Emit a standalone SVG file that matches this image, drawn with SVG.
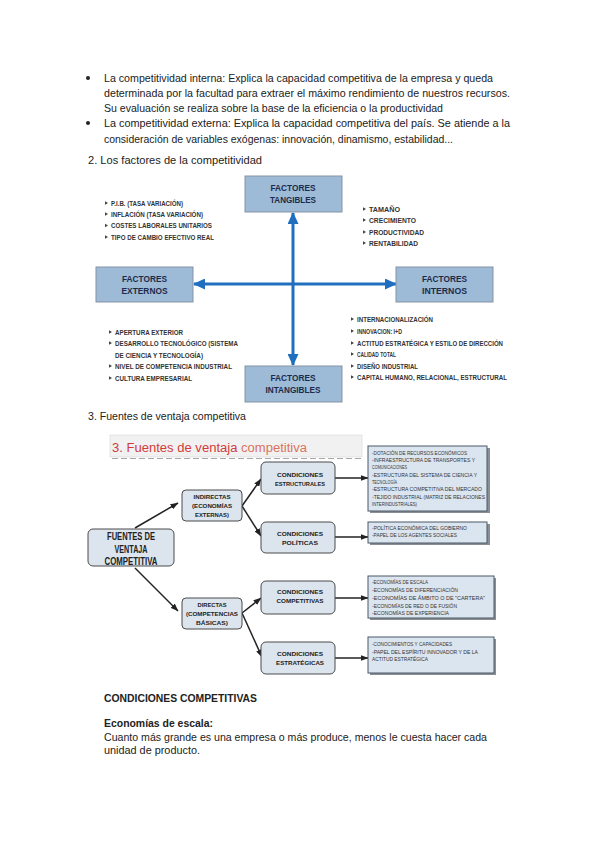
<svg xmlns="http://www.w3.org/2000/svg" xmlns:xlink="http://www.w3.org/1999/xlink" width="599" height="848" viewBox="0 0 599 848">
<style>
.p{font-family:"Liberation Sans",Arial,sans-serif;font-size:11px;fill:#222}
.pb{font-family:"Liberation Sans",Arial,sans-serif;font-size:11px;fill:#222;font-weight:bold}
.fb{fill:#9dbad6;stroke:#8593a3;stroke-width:1}
.ft{font-family:"Liberation Sans",Arial,sans-serif;font-size:9.5px;font-weight:bold;fill:#1c2b4b;text-anchor:middle}
.li{font-family:"Liberation Sans",Arial,sans-serif;font-size:6.6px;font-weight:bold;fill:#333}
.blue{stroke:#1f6ebf;stroke-width:3;fill:none}
.nd{fill:#dce5ee;stroke:#4a4a4a;stroke-width:1}
.nt{font-family:"Liberation Sans",Arial,sans-serif;font-size:6.2px;font-weight:bold;fill:#222;text-anchor:middle}
.nt2{font-family:"Liberation Sans",Arial,sans-serif;font-size:10px;font-weight:bold;fill:#222;text-anchor:middle}
.bx{fill:#dbe5ef;stroke:#4a5866;stroke-width:1}
.sh{fill:#8a8f96}
.bt{font-family:"Liberation Sans",Arial,sans-serif;font-size:5.4px;fill:#333}
.blk{stroke:#222;stroke-width:1.5;fill:none}
</style>
<defs>
<marker id="ab" markerUnits="userSpaceOnUse" markerWidth="12" markerHeight="11" refX="11" refY="5.5" orient="auto-start-reverse"><path d="M0,0 L12,5.5 L0,11 z" fill="#1f6ebf"/></marker>
<marker id="ak" markerUnits="userSpaceOnUse" markerWidth="8" markerHeight="6" refX="7.5" refY="3" orient="auto"><path d="M0,0 L8,3 L0,6 z" fill="#222"/></marker>
<path id="tri" d="M0,-1.8 L3,0 L0,1.8 z" fill="#444"/>
</defs>
<rect width="599" height="848" fill="#ffffff"/>

<!-- Intro text -->
<g id="intro">
<circle cx="88" cy="78" r="2" fill="#222"/>
<text class="p" x="104" y="82" textLength="389" lengthAdjust="spacingAndGlyphs">La competitividad interna: Explica la capacidad competitiva de la empresa y queda</text>
<text class="p" x="104" y="97" textLength="406" lengthAdjust="spacingAndGlyphs">determinada por la facultad para extraer el máximo rendimiento de nuestros recursos.</text>
<text class="p" x="104" y="112" textLength="339" lengthAdjust="spacingAndGlyphs">Su evaluación se realiza sobre la base de la eficiencia o la productividad</text>
<circle cx="88" cy="123" r="2" fill="#222"/>
<text class="p" x="104" y="127" textLength="406" lengthAdjust="spacingAndGlyphs">La competitividad externa: Explica la capacidad competitiva del país. Se atiende a la</text>
<text class="p" x="104" y="143" textLength="349" lengthAdjust="spacingAndGlyphs">consideración de variables exógenas: innovación, dinamismo, estabilidad...</text>
<text class="p" x="88" y="164" textLength="174" lengthAdjust="spacingAndGlyphs">2. Los factores de la competitividad</text>
</g>

<!-- Diagram 1 -->
<g id="connectors1">
<line class="blue" x1="293" y1="365" x2="293" y2="213" marker-start="url(#ab)" marker-end="url(#ab)"/>
<line class="blue" x1="194" y1="284" x2="396" y2="284" marker-start="url(#ab)" marker-end="url(#ab)"/>
</g>
<g id="tangibles">
<rect class="fb" x="245" y="176" width="97" height="36"/>
<text class="ft" x="293" y="190.5" textLength="45" lengthAdjust="spacingAndGlyphs">FACTORES</text>
<text class="ft" x="293" y="202.5" textLength="46" lengthAdjust="spacingAndGlyphs">TANGIBLES</text>
</g>
<g id="intangibles">
<rect class="fb" x="245" y="366" width="97" height="36"/>
<text class="ft" x="293" y="380.5" textLength="45" lengthAdjust="spacingAndGlyphs">FACTORES</text>
<text class="ft" x="293" y="392.5" textLength="55" lengthAdjust="spacingAndGlyphs">INTANGIBLES</text>
</g>
<g id="externos">
<rect class="fb" x="96" y="267" width="97" height="35"/>
<text class="ft" x="144.5" y="281.5" textLength="45" lengthAdjust="spacingAndGlyphs">FACTORES</text>
<text class="ft" x="144.5" y="294" textLength="46" lengthAdjust="spacingAndGlyphs">EXTERNOS</text>
</g>
<g id="internos">
<rect class="fb" x="396" y="267" width="97" height="35"/>
<text class="ft" x="444.5" y="281.5" textLength="45" lengthAdjust="spacingAndGlyphs">FACTORES</text>
<text class="ft" x="444.5" y="294" textLength="45" lengthAdjust="spacingAndGlyphs">INTERNOS</text>
</g>
<g id="list-tl">
<use xlink:href="#tri" x="105" y="203"/><text class="li" x="111" y="205.5" textLength="72" lengthAdjust="spacingAndGlyphs">P.I.B. (TASA VARIACIÓN)</text>
<use xlink:href="#tri" x="105" y="214"/><text class="li" x="111" y="216.5" textLength="92" lengthAdjust="spacingAndGlyphs">INFLACIÓN (TASA VARIACIÓN)</text>
<use xlink:href="#tri" x="105" y="225.5"/><text class="li" x="111" y="228" textLength="101" lengthAdjust="spacingAndGlyphs">COSTES LABORALES UNITARIOS</text>
<use xlink:href="#tri" x="105" y="237"/><text class="li" x="111" y="239.5" textLength="103" lengthAdjust="spacingAndGlyphs">TIPO DE CAMBIO EFECTIVO REAL</text>
</g>
<g id="list-tr">
<use xlink:href="#tri" x="363" y="209"/><text class="li" x="369" y="211.5" textLength="31" lengthAdjust="spacingAndGlyphs">TAMAÑO</text>
<use xlink:href="#tri" x="363" y="220"/><text class="li" x="369" y="222.5" textLength="47" lengthAdjust="spacingAndGlyphs">CRECIMIENTO</text>
<use xlink:href="#tri" x="363" y="232"/><text class="li" x="369" y="234.5" textLength="55" lengthAdjust="spacingAndGlyphs">PRODUCTIVIDAD</text>
<use xlink:href="#tri" x="363" y="243"/><text class="li" x="369" y="245.5" textLength="49" lengthAdjust="spacingAndGlyphs">RENTABILIDAD</text>
</g>
<g id="list-bl">
<use xlink:href="#tri" x="109" y="332"/><text class="li" x="115" y="334.5" textLength="68" lengthAdjust="spacingAndGlyphs">APERTURA EXTERIOR</text>
<use xlink:href="#tri" x="109" y="343"/><text class="li" x="115" y="345.5" textLength="123" lengthAdjust="spacingAndGlyphs">DESARROLLO TECNOLÓGICO (SISTEMA</text>
<text class="li" x="115" y="357.5" textLength="88" lengthAdjust="spacingAndGlyphs">DE CIENCIA Y TECNOLOGÍA)</text>
<use xlink:href="#tri" x="109" y="366"/><text class="li" x="115" y="368.5" textLength="117" lengthAdjust="spacingAndGlyphs">NIVEL DE COMPETENCIA  INDUSTRIAL</text>
<use xlink:href="#tri" x="109" y="378"/><text class="li" x="115" y="380.5" textLength="77" lengthAdjust="spacingAndGlyphs">CULTURA  EMPRESARIAL</text>
</g>
<g id="list-br">
<use xlink:href="#tri" x="351" y="319"/><text class="li" x="357" y="321.5" textLength="76" lengthAdjust="spacingAndGlyphs">INTERNACIONALIZACIÓN</text>
<use xlink:href="#tri" x="351" y="331"/><text class="li" x="357" y="333.5" textLength="45" lengthAdjust="spacingAndGlyphs">INNOVACION: I+D</text>
<use xlink:href="#tri" x="351" y="343"/><text class="li" x="357" y="345.5" textLength="146" lengthAdjust="spacingAndGlyphs">ACTITUD ESTRATÉGICA Y ESTILO DE DIRECCIÓN</text>
<use xlink:href="#tri" x="351" y="354"/><text class="li" x="357" y="356.5" textLength="39" lengthAdjust="spacingAndGlyphs">CALIDAD TOTAL</text>
<use xlink:href="#tri" x="351" y="366"/><text class="li" x="357" y="368.5" textLength="61" lengthAdjust="spacingAndGlyphs">DISEÑO INDUSTRIAL</text>
<use xlink:href="#tri" x="351" y="377"/><text class="li" x="357" y="379.5" textLength="150" lengthAdjust="spacingAndGlyphs">CAPITAL HUMANO, RELACIONAL, ESTRUCTURAL</text>
</g>

<text class="p" x="88" y="420" textLength="158" lengthAdjust="spacingAndGlyphs">3. Fuentes de ventaja competitiva</text>

<!-- Diagram 2 -->
<g id="banner">
<rect x="110" y="435" width="252" height="22" fill="#f1f1f1" stroke="#d8d8d8" stroke-width="0.6"/>
<line x1="112" y1="458.5" x2="362" y2="458.5" stroke="#a8a8a8" stroke-width="1.2" stroke-dasharray="6 3"/>
<text x="112" y="452" font-family="'Liberation Sans',Arial,sans-serif" font-size="12.5" textLength="195" lengthAdjust="spacingAndGlyphs"><tspan fill="#d23b3b">3. Fuentes de ventaja</tspan><tspan fill="#d9735e"> competitiva</tspan></text>
</g>
<g id="connectors2">
<line class="blk" x1="135" y1="528" x2="178" y2="503" marker-end="url(#ak)"/>
<line class="blk" x1="135" y1="568" x2="178" y2="611" marker-end="url(#ak)"/>
<line class="blk" x1="242" y1="506" x2="261" y2="479" marker-end="url(#ak)"/>
<line class="blk" x1="242" y1="506" x2="261" y2="536" marker-end="url(#ak)"/>
<line class="blk" x1="242" y1="613" x2="261" y2="598" marker-end="url(#ak)"/>
<line class="blk" x1="242" y1="613" x2="262" y2="657" marker-end="url(#ak)"/>
<line class="blk" x1="335" y1="478" x2="368" y2="478" marker-end="url(#ak)"/>
<line class="blk" x1="335" y1="537" x2="368" y2="537" marker-end="url(#ak)"/>
<line class="blk" x1="335" y1="598" x2="368" y2="598" marker-end="url(#ak)"/>
<line class="blk" x1="335" y1="658" x2="368" y2="658" marker-end="url(#ak)"/>
</g>
<g id="fuentes">
<rect class="nd" x="88" y="529" width="86" height="37" rx="5"/>
<text class="nt2" x="131" y="539.5" textLength="48" lengthAdjust="spacingAndGlyphs">FUENTES DE</text>
<text class="nt2" x="131" y="552.5" textLength="33" lengthAdjust="spacingAndGlyphs">VENTAJA</text>
<text class="nt2" x="131" y="564.5" textLength="53" lengthAdjust="spacingAndGlyphs">COMPETITIVA</text>
</g>
<g id="indirectas">
<rect class="nd" x="182" y="490" width="60" height="31" rx="4"/>
<text class="nt" x="212" y="499" textLength="37" lengthAdjust="spacingAndGlyphs">INDIRECTAS</text>
<text class="nt" x="212" y="508" textLength="40" lengthAdjust="spacingAndGlyphs">(ECONOMÍAS</text>
<text class="nt" x="212" y="516.5" textLength="34" lengthAdjust="spacingAndGlyphs">EXTERNAS)</text>
</g>
<g id="directas">
<rect class="nd" x="182" y="598" width="60" height="31" rx="4"/>
<text class="nt" x="212" y="607" textLength="29" lengthAdjust="spacingAndGlyphs">DIRECTAS</text>
<text class="nt" x="212" y="616" textLength="52" lengthAdjust="spacingAndGlyphs">(COMPETENCIAS</text>
<text class="nt" x="212" y="624.5" textLength="32" lengthAdjust="spacingAndGlyphs">BÁSICAS)</text>
</g>
<g id="estructurales">
<rect class="nd" x="261" y="462" width="74" height="32" rx="5"/>
<text class="nt" x="300" y="477" textLength="46" lengthAdjust="spacingAndGlyphs">CONDICIONES</text>
<text class="nt" x="300" y="485.5" textLength="50" lengthAdjust="spacingAndGlyphs">ESTRUCTURALES</text>
</g>
<g id="politicas">
<rect class="nd" x="261" y="522" width="74" height="31" rx="5"/>
<text class="nt" x="300" y="535.5" textLength="46" lengthAdjust="spacingAndGlyphs">CONDICIONES</text>
<text class="nt" x="300" y="544.5" textLength="36" lengthAdjust="spacingAndGlyphs">POLÍTICAS</text>
</g>
<g id="competitivas">
<rect class="nd" x="261" y="581" width="74" height="33" rx="5"/>
<text class="nt" x="300" y="594" textLength="46" lengthAdjust="spacingAndGlyphs">CONDICIONES</text>
<text class="nt" x="300" y="603" textLength="47" lengthAdjust="spacingAndGlyphs">COMPETITIVAS</text>
</g>
<g id="estrategicas">
<rect class="nd" x="261" y="642" width="74" height="32" rx="5"/>
<text class="nt" x="300" y="656" textLength="46" lengthAdjust="spacingAndGlyphs">CONDICIONES</text>
<text class="nt" x="300" y="665" textLength="48" lengthAdjust="spacingAndGlyphs">ESTRATÉGICAS</text>
</g>
<g id="box-estructurales">
<rect class="sh" x="370" y="448" width="120" height="65"/>
<rect class="bx" x="368" y="446" width="119" height="65"/>
<text class="bt" x="372" y="455" textLength="95" lengthAdjust="spacingAndGlyphs">-DOTACIÓN DE RECURSOS ECONÓMICOS</text>
<text class="bt" x="372" y="462" textLength="103" lengthAdjust="spacingAndGlyphs">-INFRAESTRUCTURA DE TRANSPORTES Y</text>
<text class="bt" x="372" y="469" textLength="35" lengthAdjust="spacingAndGlyphs">COMUNICACIONES</text>
<text class="bt" x="372" y="477" textLength="105" lengthAdjust="spacingAndGlyphs">-ESTRUCTURA DEL SISTEMA DE CIENCIA Y</text>
<text class="bt" x="372" y="484" textLength="25" lengthAdjust="spacingAndGlyphs">TECNOLOGÍA</text>
<text class="bt" x="372" y="491" textLength="110" lengthAdjust="spacingAndGlyphs">-ESTRUCTURA COMPETITIVA DEL MERCADO</text>
<text class="bt" x="372" y="499" textLength="113" lengthAdjust="spacingAndGlyphs">-TEJIDO INDUSTRIAL  (MATRIZ DE RELACIONES</text>
<text class="bt" x="372" y="506" textLength="45" lengthAdjust="spacingAndGlyphs">INTERINDUSTRIALES)</text>
</g>
<g id="box-politicas">
<rect class="sh" x="370" y="524" width="120" height="21"/>
<rect class="bx" x="368" y="522" width="119" height="21"/>
<text class="bt" x="372" y="529.5" textLength="95" lengthAdjust="spacingAndGlyphs">-POLÍTICA ECONÓMICA DEL GOBIERNO</text>
<text class="bt" x="372" y="536.5" textLength="85" lengthAdjust="spacingAndGlyphs">-PAPEL DE LOS AGENTES SOCIALES</text>
</g>
<g id="box-competitivas">
<rect class="sh" x="370" y="578" width="126" height="42"/>
<rect class="bx" x="368" y="576" width="126" height="42"/>
<text class="bt" x="372" y="583.5" textLength="56" lengthAdjust="spacingAndGlyphs">-ECONOMÍAS  DE  ESCALA</text>
<text class="bt" x="372" y="591.5" textLength="86" lengthAdjust="spacingAndGlyphs">-ECONOMÍAS  DE  DIFERENCIACIÓN</text>
<text class="bt" x="372" y="599.5" textLength="113" lengthAdjust="spacingAndGlyphs">-ECONOMÍAS  DE  ÁMBITO O DE "CARTERA"</text>
<text class="bt" x="372" y="607.5" textLength="85" lengthAdjust="spacingAndGlyphs">-ECONOMÍAS  DE  RED O DE FUSIÓN</text>
<text class="bt" x="372" y="614.5" textLength="77" lengthAdjust="spacingAndGlyphs">-ECONOMÍAS  DE  EXPERIENCIA</text>
</g>
<g id="box-estrategicas">
<rect class="sh" x="370" y="639" width="126" height="36"/>
<rect class="bx" x="368" y="637" width="126" height="36"/>
<text class="bt" x="372" y="645.5" textLength="80" lengthAdjust="spacingAndGlyphs">-CONOCIMIENTOS Y CAPACIDADES</text>
<text class="bt" x="372" y="653.5" textLength="106" lengthAdjust="spacingAndGlyphs">-PAPEL DEL ESPÍRITU INNOVADOR Y DE LA</text>
<text class="bt" x="372" y="661" textLength="56" lengthAdjust="spacingAndGlyphs">ACTITUD ESTRATÉGICA</text>
</g>

<!-- Bottom text -->
<g id="outro">
<text class="pb" x="104" y="702" font-size="10.5" textLength="153" lengthAdjust="spacingAndGlyphs">CONDICIONES COMPETITIVAS</text>
<text class="pb" x="104" y="727" textLength="109" lengthAdjust="spacingAndGlyphs">Economías de escala:</text>
<text class="p" x="104" y="740.5" textLength="383" lengthAdjust="spacingAndGlyphs">Cuanto más grande es una empresa o más produce, menos le cuesta hacer cada</text>
<text class="p" x="104" y="754" textLength="96" lengthAdjust="spacingAndGlyphs">unidad de producto.</text>
</g>
</svg>
